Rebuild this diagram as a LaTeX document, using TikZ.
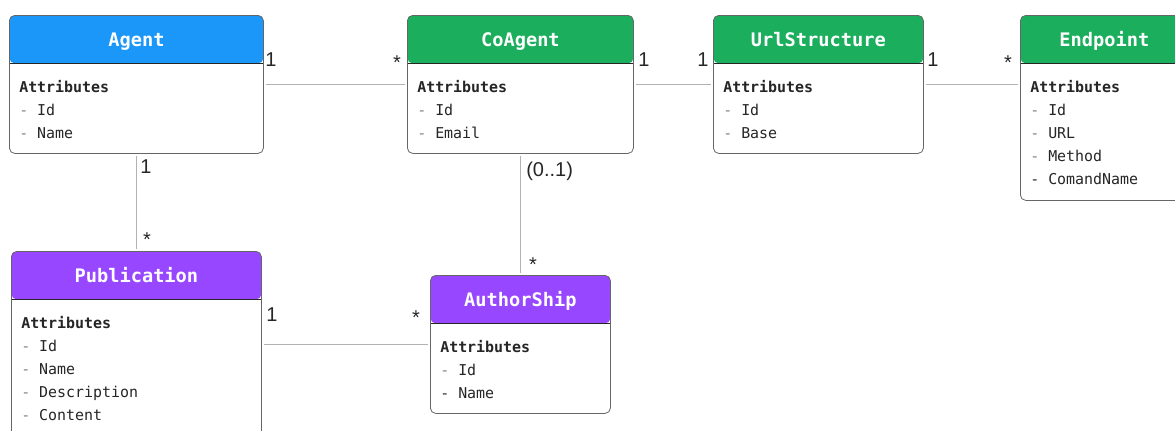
\documentclass[tikz,border=0pt]{standalone}
\usepackage{fontspec}
\setmonofont{DejaVu Sans Mono}
\setsansfont{Liberation Sans}
\usetikzlibrary{calc}

\definecolor{agentcol}{HTML}{1A97F9}
\definecolor{greencol}{HTML}{1AAE5D}
\definecolor{purplecol}{HTML}{9747FF}
\colorlet{dashcol}{black!50}

\begin{document}
\begin{tikzpicture}[x=0.75pt, y=-0.75pt,
          cls/.style={draw=black!60, line width=0.6pt, fill=white, rounded corners=4pt,
                      anchor=north west, inner sep=0,
                      path picture={
                        \fill[#1] (path picture bounding box.north west)
                          rectangle ([yshift=-36pt]path picture bounding box.north east);
                        \draw[black!85, line width=0.9pt]
                          ([yshift=-36pt]path picture bounding box.north west)
                          -- ([yshift=-36pt]path picture bounding box.north east);}},
          title/.style={font=\ttfamily\bfseries\fontsize{14}{16}\selectfont, text=white,
                        text height=10.2pt, text depth=0pt, inner sep=0},
          attrs/.style={font=\ttfamily\fontsize{11.2}{17.25}\selectfont, text=black!85,
                        align=left, anchor=north west, inner sep=0},
          mult/.style={font=\sffamily\fontsize{15}{17}\selectfont, text=black!85,
                       anchor=base, inner sep=0},
          link/.style={draw=black!30, line width=1.2pt, shorten <=1.5pt, shorten >=1.5pt}
        ]
        \useasboundingbox (0,0) rectangle (1175,430);

        % ---- class boxes (top row) ----
        \node[cls=agentcol, minimum width=190.5pt, minimum height=103.5pt] (agent) at (9,15) {};
        \node[title] (agentT) at ([yshift=-18.8pt]agent.north) {Agent};
        \node[attrs] (agentA) at ([xshift=7.5pt, yshift=-49pt]agent.north west)
          {\textbf{Attributes}\\\textcolor{dashcol}{-} Id\\\textcolor{dashcol}{-} Name};

        \node[cls=greencol, minimum width=169.5pt, minimum height=103.5pt] (coagent) at (407,15) {};
        \node[title] (coagentT) at ([yshift=-18.8pt]coagent.north) {CoAgent};
        \node[attrs] (coagentA) at ([xshift=7.5pt, yshift=-49pt]coagent.north west)
          {\textbf{Attributes}\\\textcolor{dashcol}{-} Id\\\textcolor{dashcol}{-} Email};

        \node[cls=greencol, minimum width=157.5pt, minimum height=103.5pt] (url) at (713,15) {};
        \node[title] (urlT) at ([yshift=-18.8pt]url.north) {UrlStructure};
        \node[attrs] (urlA) at ([xshift=7.5pt, yshift=-49pt]url.north west)
          {\textbf{Attributes}\\\textcolor{dashcol}{-} Id\\\textcolor{dashcol}{-} Base};

        \node[cls=greencol, minimum width=126pt, minimum height=138.75pt] (endp) at (1020,15) {};
        \node[title] (endpT) at ([yshift=-18.8pt]endp.north) {Endpoint};
        \node[attrs] (endpA) at ([xshift=7.5pt, yshift=-49pt]endp.north west)
          {\textbf{Attributes}\\\textcolor{dashcol}{-} Id\\\textcolor{dashcol}{-} URL\\
           \textcolor{dashcol}{-} Method\\- ComandName};

        % ---- class boxes (bottom row) ----
        \node[cls=purplecol, minimum width=187.5pt, minimum height=146.25pt] (pub) at (11,251) {};
        \node[title] (pubT) at ([yshift=-18.8pt]pub.north) {Publication};
        \node[attrs] (pubA) at ([xshift=7.5pt, yshift=-49pt]pub.north west)
          {\textbf{Attributes}\\\textcolor{dashcol}{-} Id\\\textcolor{dashcol}{-} Name\\
           \textcolor{dashcol}{-} Description\\\textcolor{dashcol}{-} Content};

        \node[cls=purplecol, minimum width=135pt, minimum height=103.5pt] (auth) at (430,275) {};
        \node[title] (authT) at ([yshift=-18.8pt]auth.north) {AuthorShip};
        \node[attrs] (authA) at ([xshift=7.5pt, yshift=-49pt]auth.north west)
          {\textbf{Attributes}\\\textcolor{dashcol}{-} Id\\- Name};

        % ---- associations ----
        \draw[link] (agent) -- (coagent);
        \draw[link] (coagent) -- (url);
        \draw[link] (url.east) -- (url.east -| endp.west);
        \draw[link] (agent) -- (pub);
        \draw[link] (coagent) -- (auth);
        \draw[link] (auth.west) -- (auth.west -| pub.east);

        % ---- multiplicities ----
        \node[mult] (m1) at (271,66) {1};
        \node[mult] (m2) at (397,69) {*};
        \node[mult] (m3) at (644,66) {1};
        \node[mult] (m4) at (703,66) {1};
        \node[mult] (m5) at (933,66) {1};
        \node[mult] (m6) at (1008,69) {*};
        \node[mult] (m7) at (146,173) {1};
        \node[mult] (m8) at (147,246) {*};
        \node[mult, anchor=base west] (m9) at (526,176) {(0..1)};
        \node[mult] (m10) at (533,271) {*};
        \node[mult] (m11) at (272,321) {1};
        \node[mult] (m12) at (416,324) {*};

      \end{tikzpicture}
\end{document}
